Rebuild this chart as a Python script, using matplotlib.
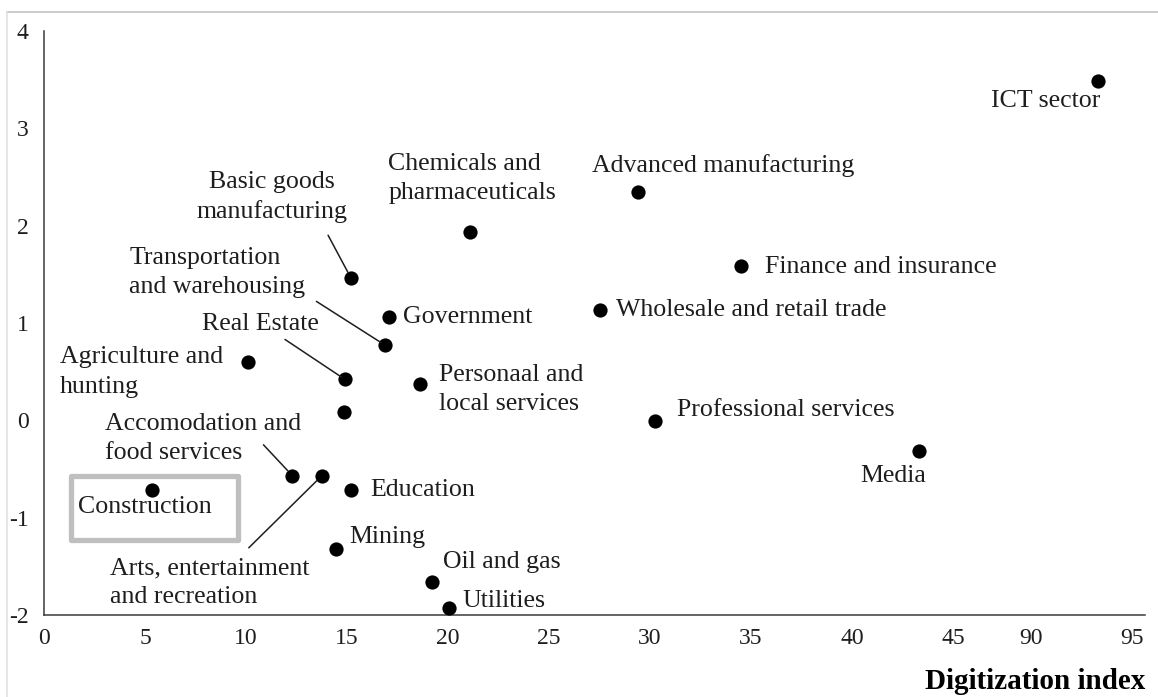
import numpy as np
import matplotlib
matplotlib.use("Agg")
import matplotlib.pyplot as plt
from matplotlib.lines import Line2D
from matplotlib.patches import Rectangle

plt.rcParams['font.family'] = ['Liberation Serif', 'DejaVu Serif']
plt.rcParams['axes.unicode_minus'] = False

# sectors: digitization index (x) vs. second score (y)
sectors = ['ICT sector', 'Advanced manufacturing', 'Chemicals and\npharmaceuticals',
           'Finance and insurance', 'Basic goods\nmanufacturing', 'Wholesale and retail trade',
           'Government', 'Transportation\nand warehousing', 'Agriculture and\nhunting',
           'Real Estate', 'Personaal and\nlocal services', '', 'Professional services',
           'Media', 'Accomodation and\nfood services', 'Arts, entertainment\nand recreation',
           'Construction', 'Education', 'Mining', 'Oil and gas', 'Utilities']
digit_idx = [93.3, 29.4, 21.1, 34.5, 15.2, 27.5, 17.1, 16.9, 10.1, 14.9, 18.6,
             14.85, 30.25, 43.3, 12.3, 13.75, 5.35, 15.2, 14.45, 19.2, 20.05]
score = [3.49, 2.35, 1.94, 1.59, 1.46, 1.13, 1.06, 0.77, 0.60, 0.42, 0.37,
         0.09, -0.01, -0.32, -0.57, -0.57, -0.72, -0.72, -1.32, -1.66, -1.93]

xticks = [0, 5, 10, 15, 20, 25, 30, 35, 40, 45, 90, 95]
yticks = [-2, -1, 0, 1, 2, 3, 4]

# label placement: (dx, dy) in pixels from the dot, horizontal alignment
label_pos = {
    'ICT sector': (-52, -20, 'center'),
    'Advanced manufacturing': (-46, 26, 'left'),
    'Chemicals and\npharmaceuticals': (-82, 53, 'left'),
    'Finance and insurance': (24, -1, 'left'),
    'Basic goods\nmanufacturing': (-79, 81, 'center'),
    'Wholesale and retail trade': (16, 0, 'left'),
    'Government': (14, 0, 'left'),
    'Transportation\nand warehousing': (-256, 73, 'left'),
    'Agriculture and\nhunting': (-188, -10, 'left'),
    'Real Estate': (-143, 55, 'left'),
    'Personaal and\nlocal services': (19, -5, 'left'),
    'Professional services': (22, 11, 'left'),
    'Media': (-26, -25, 'center'),
    'Accomodation and\nfood services': (-187, 37, 'left'),
    'Arts, entertainment\nand recreation': (-212, -107, 'left'),
    'Construction': (-74, -17, 'left'),
    'Education': (19, 0, 'left'),
    'Mining': (13, 12, 'left'),
    'Oil and gas': (11, 20, 'left'),
    'Utilities': (13, 7, 'left'),
}
# leader lines: start offset (pixels) and gap at the dot (points)
leaders = {
    'Basic goods\nmanufacturing': (-23, 43, 4.5),
    'Transportation\nand warehousing': (-69, 44, 4),
    'Real Estate': (-60, 40, 3),
    'Accomodation and\nfood services': (-29, 31, 5),
    'Arts, entertainment\nand recreation': (-73, -72, 5),
}

GAP = 48.86  # where 90 sits on the broken axis


def fwd(x):
    x = np.asarray(x, dtype=float)
    return np.where(x <= 45, x,
                    np.where(x >= 90, x - 90 + GAP, 45 + (x - 45) * (GAP - 45) / 45))


def inv(t):
    t = np.asarray(t, dtype=float)
    return np.where(t <= 45, t,
                    np.where(t >= GAP, t - GAP + 90, 45 + (t - 45) * 45 / (GAP - 45)))


fig = plt.figure(figsize=(11.58, 6.97), dpi=100)
ax = fig.add_axes([44 / 1158, 82 / 697, 1101 / 1158, 584 / 697])
ax.set_xscale('function', functions=(fwd, inv))

txt = '#1e1e1e'
ax.scatter(digit_idx, score, s=105, color='black', zorder=3, linewidths=0)

for name, x, y in zip(sectors, digit_idx, score):
    if name in leaders:
        lx, ly, gap = leaders[name]
        ax.annotate('', xy=(x, y), xytext=(lx, ly), textcoords='offset pixels',
                    arrowprops=dict(arrowstyle='-', color='#1e1e1e', lw=1.1,
                                    shrinkA=0, shrinkB=gap))
    if not name:
        continue
    dx, dy, ha = label_pos[name]
    ax.annotate(name, xy=(x, y), xytext=(dx, dy), textcoords='offset pixels',
                ha=ha, va='center', fontsize=18.6, color=txt, linespacing=1.42,
                multialignment='left' if ha == 'left' else 'center', zorder=2)

# grey box around the Construction label
fig.add_artist(Rectangle((70.5 / 1158, 1 - 539.5 / 697), 167 / 1158, 64 / 697,
                         transform=fig.transFigure, fill=False, ec='#bfbfbf', lw=3.8,
                         joinstyle='round', zorder=1))

ax.set_xlim(0, 95.64)
ax.set_ylim(-2, 4)
ax.set_xticks(xticks)
ax.set_xticklabels([str(t) for t in xticks])
ax.set_yticks(yticks)
ax.tick_params(length=0, labelsize=17, colors=txt)
ax.tick_params(axis='x', pad=9)
ax.tick_params(axis='y', pad=11)
for s in ['top', 'right']:
    ax.spines[s].set_visible(False)
for s in ['left', 'bottom']:
    ax.spines[s].set_color('#3a3a3a')
    ax.spines[s].set_linewidth(1.1)

ax.set_xlabel('Digitization index', loc='right', fontsize=21, fontweight='bold',
              color='black', labelpad=14)

# thin frame around the picture
fig.add_artist(Line2D([7 / 1158, 1], [1 - 12 / 697, 1 - 12 / 697], color='#c4c4c4', lw=1.2))
fig.add_artist(Line2D([7 / 1158, 7 / 1158], [0, 1 - 12 / 697], color='#e0e0e0', lw=1.2))

fig.savefig('out.png', dpi=100)
